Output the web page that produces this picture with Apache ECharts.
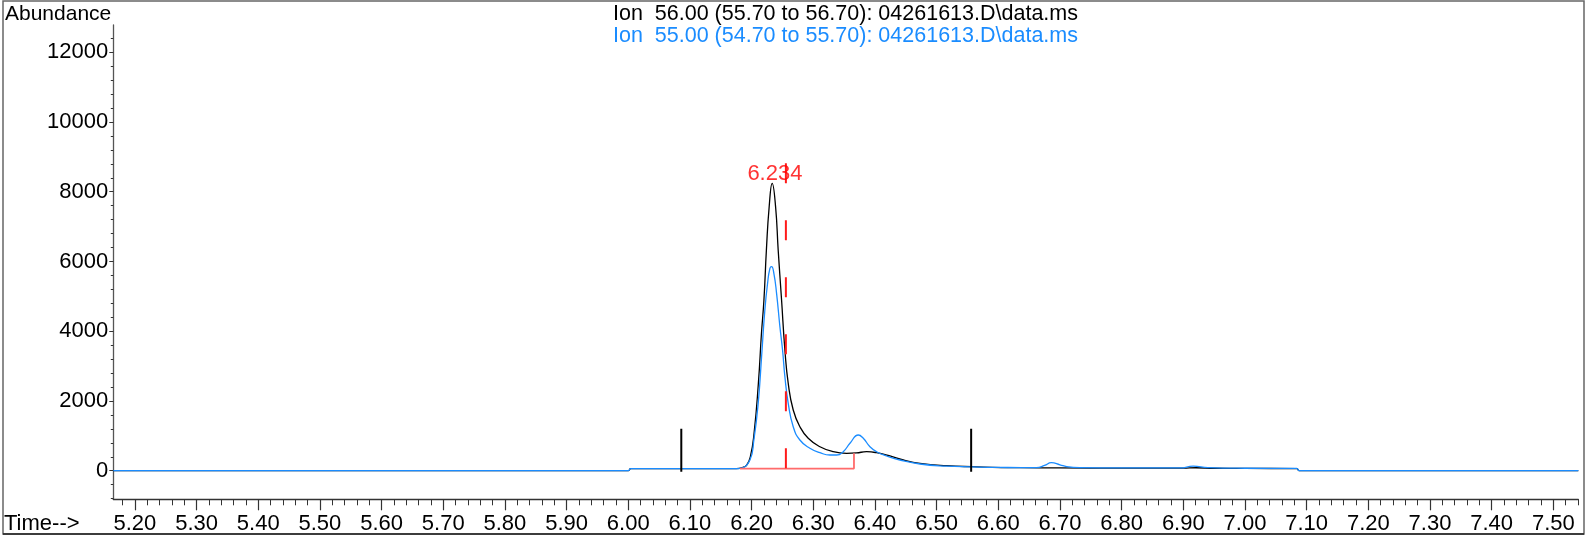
<!DOCTYPE html>
<html><head><meta charset="utf-8">
<script src="https://cdn.jsdelivr.net/npm/echarts@6/dist/echarts.min.js"></script>
<style>html,body{margin:0;padding:0;background:#fff}#c{width:1590px;height:540px}</style>
</head><body><div id="c"></div>
<script>
// ---- data ----
const ion56Time  = [5.165, 6.000, 6.004, 6.100, 6.175, 6.185, 6.192, 6.198, 6.204, 6.211, 6.216, 6.220, 6.224, 6.2285, 6.2334, 6.2389, 6.2431, 6.2486, 6.254, 6.2594, 6.2675, 6.2783, 6.2918, 6.3108, 6.3324, 6.3541, 6.370, 6.3865, 6.4027, 6.4243, 6.446, 6.473, 6.516, 6.557, 6.635, 6.700, 6.800, 6.900, 6.920, 6.950, 7.000, 7.084, 7.088, 7.5405];
const ion56Abund = [0, 0, 60, 60, 62, 90, 163, 402, 1072, 2506, 3940, 4895, 6329, 7571, 8242, 7571, 6329, 4895, 3461, 2506, 1741, 1262, 929, 688, 545, 499, 510, 545, 516, 422, 307, 212, 143, 115, 86, 80, 75, 75, 85, 70, 65, 60, 0, 0];

const ion55Time  = [5.165, 6.000, 6.004, 6.100, 6.175, 6.181, 6.1973, 6.2037, 6.2107, 6.2162, 6.2215, 6.2259, 6.2297, 6.2324, 6.2361, 6.2405, 6.2459, 6.2502, 6.254, 6.2594, 6.2675, 6.2783, 6.2945, 6.3108, 6.327, 6.3378, 6.3486, 6.3595, 6.373, 6.3811, 6.3919, 6.4027, 6.4189, 6.4405, 6.473, 6.516, 6.557, 6.600, 6.662, 6.675, 6.686, 6.700, 6.711, 6.732, 6.800, 6.895, 6.916, 6.940, 7.000, 7.084, 7.088, 7.5405];
const ion55Abund = [0, 0, 60, 60, 62, 69, 307, 880, 1932, 3270, 4608, 5374, 5804, 5850, 5661, 5087, 4130, 3461, 2696, 1932, 1262, 880, 642, 516, 450, 450, 545, 786, 1024, 929, 688, 545, 422, 307, 192, 130, 110, 95, 86, 150, 229, 170, 115, 86, 80, 80, 130, 90, 70, 65, 0, 0];

const xTickLabels = ['5.20','5.30','5.40','5.50','5.60','5.70','5.80','5.90','6.00','6.10','6.20','6.30','6.40','6.50','6.60','6.70','6.80','6.90','7.00','7.10','7.20','7.30','7.40','7.50'];
const yTickLabels = ['0','2000','4000','6000','8000','10000','12000'];

const titleLines = ['Ion  56.00 (55.70 to 56.70): 04261613.D\\data.ms', 'Ion  55.00 (54.70 to 55.70): 04261613.D\\data.ms'];
const peakLabel = '6.234';
const peakLabelPos = [6.2378, 8520];
const rtLineTime = [6.2556, 6.2556];
const rtLineAbund = [8820, 60];
const integTime = [6.181, 6.366, 6.366];
const integAbund = [60, 60, 500];
const boundLeftTime = [6.086, 6.086];
const boundRightTime = [6.556, 6.556];
const boundAbund = [-30, 1200];

// ---- build ----
const zip = (a, b) => a.map((v, i) => [v, b[i]]);
const FONT = "'Liberation Sans', Arial, sans-serif";
const XMIN = 5.165, XMAX = 7.5405, YMIN = -820, YMAX = 12782;
const xMajor = xTickLabels.map(Number);
const yMajor = yTickLabels.map(Number);
const xMinor = []; for (let i = 518; i <= 754; i += 2) xMinor.push(i / 100);
const yMinor = []; for (let v = -800; v <= 12400; v += 400) yMinor.push(v);

const chart = echarts.init(document.getElementById('c'), null, {renderer: 'canvas'});
chart.setOption({
  animation: false,
  backgroundColor: '#fff',
  grid: {left: 113.3, right: 11.7, top: 25, bottom: 40.7},
  xAxis: [
    {type: 'value', min: XMIN, max: XMAX, gridIndex: 0, position: 'bottom',
     axisLine: {show: true, onZero: false, lineStyle: {color: '#333', width: 1.3}},
     axisTick: {show: true, length: 6, customValues: xMinor, lineStyle: {color: '#333', width: 1}},
     axisLabel: {show: false}, splitLine: {show: false}},
    {type: 'value', min: XMIN, max: XMAX, gridIndex: 0, position: 'bottom',
     axisLine: {show: false, onZero: false},
     axisTick: {show: true, length: 11, customValues: xMajor, lineStyle: {color: '#333', width: 1.2}},
     axisLabel: {show: true, customValues: xMajor, margin: 14, color: '#000', fontSize: 22, fontFamily: FONT,
                 formatter: v => xTickLabels[xMajor.findIndex(m => Math.abs(m - v) < 1e-6)] || ''},
     splitLine: {show: false}}
  ],
  yAxis: [
    {type: 'value', min: YMIN, max: YMAX, gridIndex: 0, position: 'left',
     axisLine: {show: true, onZero: false, lineStyle: {color: '#555', width: 1.3}},
     axisTick: {show: true, length: 2.5, customValues: yMinor, lineStyle: {color: '#333', width: 1}},
     axisLabel: {show: false}, splitLine: {show: false}},
    {type: 'value', min: YMIN, max: YMAX, gridIndex: 0, position: 'left',
     axisLine: {show: false, onZero: false},
     axisTick: {show: true, length: 4, customValues: yMajor, lineStyle: {color: '#333', width: 1}},
     axisLabel: {show: true, customValues: yMajor, margin: 5, color: '#000', fontSize: 22, fontFamily: FONT,
                 formatter: v => yTickLabels[yMajor.indexOf(v)] || ''},
     splitLine: {show: false}}
  ],
  series: [
    {type: 'line', name: 'ion56', data: zip(ion56Time, ion56Abund), showSymbol: false, symbol: 'none',
     smooth: 0.5, lineStyle: {color: '#000', width: 1.3}, z: 3},
    {type: 'line', name: 'ion55', data: zip(ion55Time, ion55Abund), showSymbol: false, symbol: 'none',
     smooth: 0.5, lineStyle: {color: '#1a8cff', width: 1.3}, z: 4},
    {type: 'line', data: zip(integTime, integAbund), symbol: 'none', lineStyle: {color: '#ff6b6b', width: 1.8}, z: 5},
    {type: 'line', data: zip(rtLineTime, rtLineAbund), symbol: 'none', lineStyle: {color: '#ff1a1a', width: 2, type: [20, 37]}, z: 6},
    {type: 'line', data: zip(boundLeftTime, boundAbund), symbol: 'none', lineStyle: {color: '#000', width: 2}, z: 6},
    {type: 'line', data: zip(boundRightTime, boundAbund), symbol: 'none', lineStyle: {color: '#000', width: 2}, z: 6},
    {type: 'scatter', data: [peakLabelPos], symbolSize: 0, z: 7,
     label: {show: true, position: 'inside', formatter: peakLabel, color: '#ff0000', fontSize: 22, fontFamily: FONT}}
  ],
  graphic: [
    {type: 'rect', shape: {x: 3, y: 1, width: 1581, height: 533}, style: {fill: 'none', stroke: '#666', lineWidth: 1.5}, z: 0},
    {type: 'line', shape: {x1: 3, y1: 534, x2: 1584, y2: 534}, style: {stroke: '#222', lineWidth: 1.5}},
    {type: 'text', left: 5, top: 4, style: {text: 'Abundance', fontSize: 21, fontFamily: FONT, fill: '#000'}},
    {type: 'text', left: 4, top: 513, style: {text: 'Time-->', fontSize: 22, fontFamily: FONT, fill: '#000'}},
    {type: 'text', left: 613, top: 3, style: {text: titleLines[0], fontSize: 21.5, fontFamily: FONT, fill: '#000'}},
    {type: 'text', left: 613, top: 25, style: {text: titleLines[1], fontSize: 21.5, fontFamily: FONT, fill: '#1a8cff'}}
  ]
});
</script></body></html>
